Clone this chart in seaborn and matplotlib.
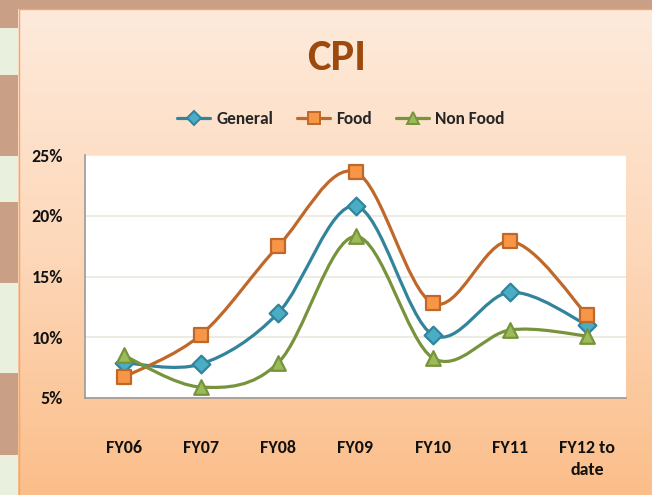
import matplotlib
matplotlib.use("Agg")
import matplotlib.pyplot as plt
import numpy as np
import seaborn as sns
from matplotlib import font_manager
from matplotlib.lines import Line2D
from matplotlib.patches import PathPatch, Rectangle
from matplotlib.path import Path
from matplotlib.colors import LinearSegmentedColormap

categories = ["FY06", "FY07", "FY08", "FY09", "FY10", "FY11", "FY12 to\ndate"]
general = [7.9, 7.8, 12.0, 20.8, 10.2, 13.7, 11.0]
food = [6.7, 10.2, 17.5, 23.6, 12.8, 17.9, 11.8]
non_food = [8.5, 5.9, 7.9, 18.3, 8.3, 10.6, 10.1]
y_ticks = [5, 10, 15, 20, 25]

series = [
    ("General", general, "#31849B", "#4BACC6", "D", 9),
    ("Food", food, "#C0682A", "#F79646", "s", 10),
    ("Non Food", non_food, "#77933C", "#9BBB59", "^", 10.5),
]

sns.set_theme(style="white")
installed = {f.name for f in font_manager.fontManager.ttflist}
narrow = [f for f in ["Carlito", "Liberation Sans Narrow", "DejaVu Sans Condensed",
                      "Roboto Condensed", "Open Sans Condensed", "Lato"] if f in installed]
plt.rcParams["font.family"] = narrow + ["DejaVu Sans"]
plt.rcParams["font.weight"] = "bold"


def smooth_path(xs, ys):
    # Excel-style smoothed line: cubic Bezier through every point
    pts = np.column_stack([xs, ys]).astype(float)
    n = len(pts)
    verts = [pts[0]]
    codes = [Path.MOVETO]
    for i in range(n - 1):
        p_prev = pts[max(i - 1, 0)]
        p0, p1 = pts[i], pts[i + 1]
        p_next = pts[min(i + 2, n - 1)]
        c1 = p0 + (p1 - p_prev) / 6
        c2 = p1 - (p_next - p0) / 6
        verts += [c1, c2, p1]
        codes += [Path.CURVE4] * 3
    return Path(verts, codes)


fig = plt.figure(figsize=(6.52, 4.95), dpi=100)

# slide background gradient
bg = fig.add_axes([0, 0, 1, 1], zorder=-10)
cmap = LinearSegmentedColormap.from_list("bg", ["#FEEBDD", "#FDD8BA", "#FBBE8A"])
bg.imshow(np.linspace(0, 1, 256).reshape(-1, 1), aspect="auto", cmap=cmap,
          extent=[0, 1, 0, 1], origin="upper")
bg.set_xlim(0, 1)
bg.set_ylim(0, 1)
bg.axis("off")

# left decorative strip and top band
W, H = 652, 495
bg.add_patch(Rectangle((0, 1 - 9 / H), 1, 9 / H, color="#C9A085", lw=0))
bg.add_patch(Rectangle((0, 0), 18 / W, 1, color="#C9A085", lw=0))
for top, bottom in [(28, 75), (156, 202), (283, 373), (455, 495)]:
    bg.add_patch(Rectangle((0, 1 - bottom / H), 18 / W, (bottom - top) / H,
                           color="#E9F1DE", lw=0))
bg.plot([19 / W, 19 / W], [0, 1 - 9 / H], color="#F3A56A", lw=1)
bg.plot([19 / W, 1], [1 - 9 / H, 1 - 9 / H], color="#F3A56A", lw=1)

ax = fig.add_axes([85 / W, 97 / H, 541 / W, 243 / H])
ax.set_facecolor("white")
x = np.arange(len(categories))

for name, vals, line_c, fill_c, marker, ms in series:
    ax.add_patch(PathPatch(smooth_path(x, vals), fill=False, edgecolor=line_c,
                           lw=2.3, zorder=2, capstyle="round"))
    sns.scatterplot(x=x, y=vals, marker=marker, s=ms ** 2, color=fill_c,
                    edgecolor=line_c, linewidth=1.6, zorder=3, ax=ax, legend=False)

ax.set_xlim(-0.5, len(categories) - 0.5)
ax.set_ylim(5, 25)
ax.set_yticks(y_ticks)
ax.set_yticklabels([f"{t}%" for t in y_ticks])
ax.set_xticks(x)
ax.set_xticklabels(categories, linespacing=1.5, va="top")
ax.tick_params(axis="y", length=0, pad=16, labelsize=13)
ax.tick_params(axis="x", length=0, pad=30, labelsize=13)
for lab in ax.get_xticklabels() + ax.get_yticklabels():
    lab.set_fontweight("bold")
    lab.set_color("#111111")
ax.grid(axis="y", color="#EBEBE0", lw=1.3)
ax.set_axisbelow(True)
for side in ["top", "right"]:
    ax.spines[side].set_visible(False)
for side in ["left", "bottom"]:
    ax.spines[side].set_color("#9A9A9A")
    ax.spines[side].set_linewidth(1.2)

fig.text(337 / W, 1 - 58 / H, "CPI", ha="center", va="center", fontsize=32,
         fontweight="bold", color="#9C4A0E")

handles = [
    Line2D([], [], color=lc, marker=m, markersize=ms * 0.8, markerfacecolor=fc,
           markeredgecolor=lc, markeredgewidth=1.4, lw=2.3)
    for _, _, lc, fc, m, ms in series
]
fig.legend(handles, [s[0] for s in series], loc="center", ncol=3,
           bbox_to_anchor=(341 / W, 1 - 119 / H), frameon=False,
           prop={"size": 12.5, "weight": "bold"}, handlelength=1.9,
           columnspacing=1.4, handletextpad=0.35)

fig.savefig("out.png", dpi=100)
